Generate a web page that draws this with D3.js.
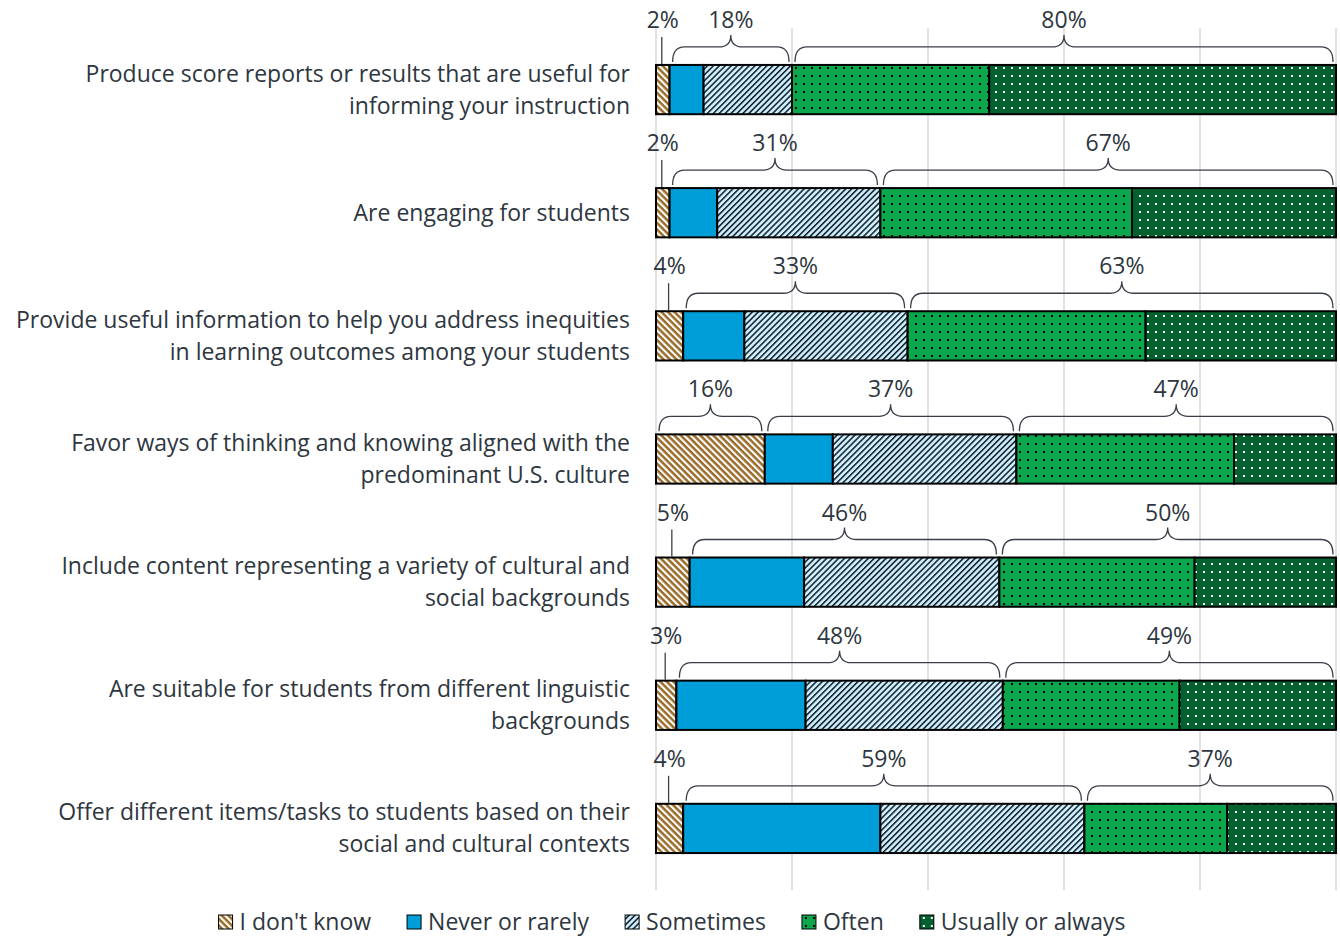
<!DOCTYPE html>
<html>
<head>
<meta charset="utf-8">
<script src="https://cdn.jsdelivr.net/npm/d3@7"></script>
<style>
  body { margin: 0; background: #fff; }
  svg { display: block; font-family: "Open Sans", sans-serif; }
</style>
</head>
<body>
<div id="chart"></div>
<script>
// data (percent of respondents)
var categories = [
  ["Produce score reports or results that are useful for", "informing your instruction"],
  ["Are engaging for students"],
  ["Provide useful information to help you address inequities", "in learning outcomes among your students"],
  ["Favor ways of thinking and knowing aligned with the", "predominant U.S. culture"],
  ["Include content representing a variety of cultural and", "social backgrounds"],
  ["Are suitable for students from different linguistic", "backgrounds"],
  ["Offer different items/tasks to students based on their", "social and cultural contexts"]
];
var seriesNames = ["I don't know", "Never or rarely", "Sometimes", "Often", "Usually or always"];
var dontKnow    = [2, 2, 4, 16, 5, 3, 4];
var neverRarely = [5, 7, 9, 10, 17, 19, 29];
var sometimes   = [13, 24, 24, 27, 29, 29, 30];
var often       = [29, 37, 35, 32, 29, 26, 21];
var usually     = [51, 30, 28, 15, 21, 23, 16];
var xTicks = [0, 20, 40, 60, 80, 100];

// brace groups: [first series, last series]
var groups = [[0, 0], [1, 2], [3, 4]];

var W = 1340, H = 936;
var margin = { top: 28, right: 4, bottom: 46, left: 656 };
var textColor = "#2e3640";
var fontSize = "23px";

var keys = ["k0", "k1", "k2", "k3", "k4"];
var allSeries = [dontKnow, neverRarely, sometimes, often, usually];
var rows = categories.map(function (c, i) {
  var r = { cat: i };
  keys.forEach(function (k, j) { r[k] = allSeries[j][i]; });
  return r;
});

var stacked = d3.stack().keys(keys).offset(d3.stackOffsetExpand)(rows);

var x = d3.scaleLinear().domain([0, 1]).range([margin.left, W - margin.right]);
var y = d3.scaleBand().domain(d3.range(categories.length))
  .range([margin.top, H - margin.bottom]).paddingInner(0.6).paddingOuter(0.3);

var svg = d3.select("#chart").append("svg").attr("width", W).attr("height", H);
var defs = svg.append("defs");

// patterns
function stripes(id, bg, fg, size, lw, angle) {
  var p = defs.append("pattern").attr("id", id).attr("patternUnits", "userSpaceOnUse")
    .attr("width", size).attr("height", size).attr("patternTransform", "rotate(" + angle + ")");
  p.append("rect").attr("width", size).attr("height", size).attr("fill", bg);
  p.append("rect").attr("width", lw).attr("height", size).attr("fill", fg);
}
function dots(id, bg, fg) {
  var p = defs.append("pattern").attr("id", id).attr("patternUnits", "userSpaceOnUse")
    .attr("width", 8).attr("height", 8);
  p.append("rect").attr("width", 8).attr("height", 8).attr("fill", bg);
  p.append("rect").attr("x", 3).attr("y", 3).attr("width", 2).attr("height", 2).attr("fill", fg);
}
stripes("p0", "#9a6b28", "#ffffff", 4.6, 2.1, -45);
defs.append("pattern").attr("id", "p1").attr("patternUnits", "userSpaceOnUse")
  .attr("width", 8).attr("height", 8)
  .append("rect").attr("width", 8).attr("height", 8).attr("fill", "#009ed8");
stripes("p2", "#cdeefb", "#101a28", 4.2, 1.5, 45);
dots("p3", "#0ca64c", "#000000");
dots("p4", "#05602f", "#ffffff");

// gridlines
svg.append("g").selectAll("line")
  .data(xTicks)
  .enter().append("line")
    .attr("x1", function (d) { return x(d / 100); })
    .attr("x2", function (d) { return x(d / 100); })
    .attr("y1", margin.top)
    .attr("y2", H - margin.bottom)
    .attr("stroke", "#d9d9d9")
    .attr("stroke-width", 1.5);

// bars
svg.append("g").selectAll("g")
  .data(stacked)
  .enter().append("g")
    .attr("fill", function (d, i) { return "url(#p" + i + ")"; })
  .selectAll("rect")
  .data(function (d) { return d; })
  .enter().append("rect")
    .attr("x", function (d) { return x(d[0]); })
    .attr("width", function (d) { return x(d[1]) - x(d[0]); })
    .attr("y", function (d) { return y(d.data.cat); })
    .attr("height", y.bandwidth())
    .attr("stroke", "#000")
    .attr("stroke-width", 2);

// category labels
svg.append("g").selectAll("text")
  .data(categories)
  .enter().append("text")
    .attr("text-anchor", "end")
    .attr("fill", textColor)
    .style("font-size", fontSize)
    .attr("transform", function (d, i) {
      return "translate(630," + (y(i) + y.bandwidth() / 2) + ")";
    })
    .each(function (lines) {
      var t = d3.select(this);
      lines.forEach(function (ln, k) {
        t.append("tspan").attr("x", 0)
          .attr("y", (k - (lines.length - 1) / 2) * 32 + 8)
          .text(ln);
      });
    });

// braces and group labels
var braceData = [];
rows.forEach(function (r, i) {
  groups.forEach(function (g) {
    var x0 = x(stacked[g[0]][i][0]), x1 = x(stacked[g[1]][i][1]);
    var total = 0;
    for (var k = g[0]; k <= g[1]; k++) total += allSeries[k][i];
    braceData.push({ row: i, x0: x0, x1: x1, value: total });
  });
});

function bracePath(d) {
  var top = y(d.row);
  var a = d.x0 + 3, b = d.x1 - 3, m = (a + b) / 2, r = 12;
  var yb = top - 3, yh = top - 18, yp = top - 30;
  return "M" + a + "," + yb +
    "Q" + a + "," + yh + " " + (a + r) + "," + yh +
    "L" + (m - r) + "," + yh +
    "Q" + m + "," + yh + " " + m + "," + yp +
    "Q" + m + "," + yh + " " + (m + r) + "," + yh +
    "L" + (b - r) + "," + yh +
    "Q" + b + "," + yh + " " + b + "," + yb;
}

var ann = svg.append("g");
ann.selectAll("path")
  .data(braceData)
  .enter().append("path")
    .attr("fill", "none")
    .attr("stroke", "#3a3f47")
    .attr("stroke-width", 1.3)
    .attr("d", function (d) {
      if (d.x1 - d.x0 > 40) return bracePath(d);
      var m = (d.x0 + d.x1) / 2 - 1, top = y(d.row);
      return "M" + m + "," + (top - 1) + "V" + (top - 28);
    });

ann.selectAll("text")
  .data(braceData)
  .enter().append("text")
    .attr("x", function (d) { return (d.x0 + d.x1) / 2; })
    .attr("y", function (d) { return y(d.row) - 37; })
    .attr("text-anchor", "middle")
    .attr("fill", textColor)
    .style("font-size", fontSize)
    .text(function (d) { return d.value + "%"; });

// legend
var legend = svg.append("g");
var lx = 0;
var items = legend.selectAll("g")
  .data(seriesNames)
  .enter().append("g");
items.append("rect")
  .attr("y", -15).attr("width", 14).attr("height", 14)
  .attr("fill", function (d, i) { return "url(#p" + i + ")"; })
  .attr("stroke", "#000").attr("stroke-width", 1);
items.append("text")
  .attr("x", 21).attr("y", 0)
  .attr("fill", textColor)
  .style("font-size", fontSize)
  .text(function (d) { return d; });
items.each(function () {
  var g = d3.select(this);
  g.attr("transform", "translate(" + lx + ",0)");
  lx += 21 + g.select("text").node().getComputedTextLength() + 36;
});
lx -= 36;
legend.attr("transform", "translate(" + (672 - lx / 2) + "," + (H - 6) + ")");
</script>
</body>
</html>
